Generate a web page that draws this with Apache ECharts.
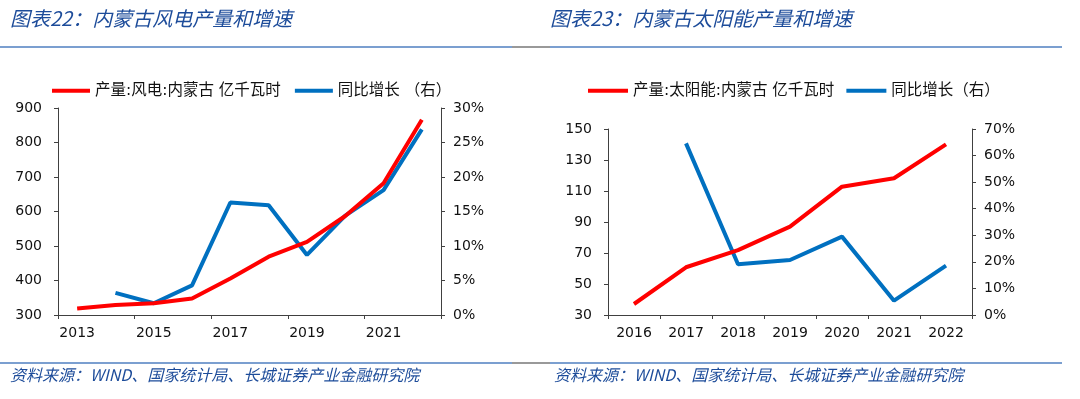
<!DOCTYPE html>
<html><head><meta charset="utf-8">
<script src="https://cdn.jsdelivr.net/npm/echarts@6/dist/echarts.min.js"></script>
<style>html,body{margin:0;padding:0;background:#fff}#c{width:1080px;height:399px}</style>
</head><body><div id="c"></div>
<script>
// Chart 1: wind power
const windYears = ['2013','2014','2015','2016','2017','2018','2019','2020','2021','2022'];
const windOutput = [319, 329, 334, 348, 406, 469, 512, 587, 682, 866];
const windGrowth = [null, 3.2, 1.7, 4.3, 16.3, 15.9, 8.7, 14.4, 18.1, 26.9];
const windLeftTicks = [300, 900, 100];
const windRightTicks = [0, 30, 5];
// Chart 2: solar
const solarYears = ['2016','2017','2018','2019','2020','2021','2022'];
const solarOutput = [37.1, 60.8, 71.9, 87.0, 112.8, 118.2, 140.1];
const solarGrowth = [null, 64.6, 19.1, 20.7, 29.5, 5.4, 18.6];
const solarLeftTicks = [30, 150, 20];
const solarRightTicks = [0, 70, 10];

const titles = ['图表22：内蒙古风电产量和增速', '图表23：内蒙古太阳能产量和增速'];
const sourceText = '资料来源：WIND、国家统计局、长城证券产业金融研究院';
const legendNames = ['产量:风电:内蒙古 亿千瓦时', '同比增长 （右）', '产量:太阳能:内蒙古 亿千瓦时', '同比增长（右）'];

const RED = '#ff0000', BLUE = '#0070c0', AX = '#404040';
const FONT = 'DejaVu Sans, Noto Sans CJK SC, sans-serif';
const lbl = {color:'#111', fontSize:14, fontFamily:FONT};

function yAxis(gi, t, pos, pct){
  return {type:'value', gridIndex:gi, position:pos, min:t[0], max:t[1], interval:t[2],
    axisLine:{show:true, lineStyle:{color:AX, width:1}},
    axisTick:{show:true, length:4, lineStyle:{color:AX}},
    splitLine:{show:false},
    axisLabel:Object.assign({margin:pos==='left'?16:12, formatter: pct ? '{value}%' : '{value}'}, lbl)};
}
function xAxis(gi, cats, interval){
  return {type:'category', gridIndex:gi, data:cats, boundaryGap:true,
    axisLine:{lineStyle:{color:AX, width:1}},
    axisTick:{show:true, length:4, interval:interval, lineStyle:{color:AX}},
    axisLabel:Object.assign({interval:interval, margin:11}, lbl)};
}
function line(name, xi, yi, data, color){
  return {name:name, type:'line', xAxisIndex:xi, yAxisIndex:yi, data:data, symbol:'none',
    smooth:false, connectNulls:false, lineStyle:{color:color, width:4}, itemStyle:{color:color}, z:color===RED?3:2};
}
function hline(x1, x2, y, color){
  return {type:'line', shape:{x1:x1, y1:y, x2:x2, y2:y}, style:{stroke:color, lineWidth:1.5}, silent:true};
}
function txt(x, y, s, size){
  return {type:'text', x:x, y:y, style:{text:s, fill:'#1d4c9a', font:'italic '+size+'px "Noto Sans CJK SC", sans-serif', textVerticalAlign:'middle'}, silent:true};
}

const chart = echarts.init(document.getElementById('c'), null, {renderer:'canvas'});
chart.setOption({
  animation:false,
  backgroundColor:'#fff',
  grid:[
    {left:58, right:1080-441, top:108, bottom:399-315},
    {left:608, right:1080-972, top:129, bottom:399-315}
  ],
  legend:[
    {left:52, top:83, padding:0, itemWidth:38, itemHeight:4, itemGap:14, icon:'rect',
     data:[legendNames[0], legendNames[1]],
     textStyle:{fontSize:15.5, color:'#111', fontFamily:FONT}},
    {left:588, top:83, padding:0, itemWidth:40, itemHeight:4, itemGap:12, icon:'rect',
     data:[legendNames[2], legendNames[3]],
     textStyle:{fontSize:15.5, color:'#111', fontFamily:FONT}}
  ],
  xAxis:[xAxis(0, windYears, 1), xAxis(1, solarYears, 0)],
  yAxis:[
    yAxis(0, windLeftTicks, 'left', false),
    yAxis(0, windRightTicks, 'right', true),
    yAxis(1, solarLeftTicks, 'left', false),
    yAxis(1, solarRightTicks, 'right', true)
  ],
  series:[
    line(legendNames[0], 0, 0, windOutput, RED),
    line(legendNames[1], 0, 1, windGrowth, BLUE),
    line(legendNames[2], 1, 2, solarOutput, RED),
    line(legendNames[3], 1, 3, solarGrowth, BLUE)
  ],
  graphic:[
    txt(10, 18, titles[0], 20),
    txt(550, 18, titles[1], 20),
    hline(0, 512, 47, '#4f7fc0'), hline(512, 550, 47, '#777777'), hline(550, 1062, 47, '#4f7fc0'),
    hline(0, 512, 363, '#4f7fc0'), hline(512, 550, 363, '#777777'), hline(550, 1062, 363, '#4f7fc0'),
    txt(10, 375, sourceText, 16),
    txt(554, 375, sourceText, 16)
  ]
});
</script></body></html>
